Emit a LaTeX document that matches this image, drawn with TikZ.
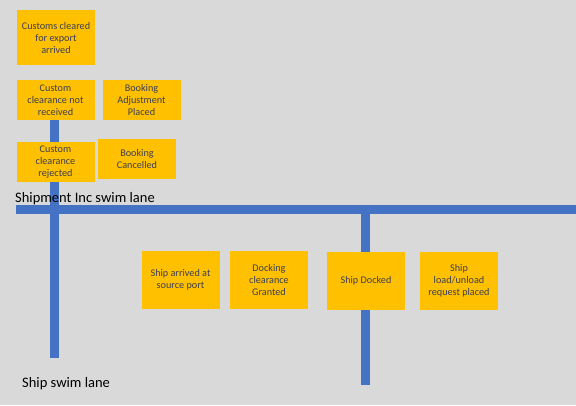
\documentclass[tikz,border=0pt]{standalone}
\usepackage{fontspec}
\setmainfont{Carlito}
\usetikzlibrary{positioning}
\definecolor{lanegray}{HTML}{D9D9D9}
\definecolor{laneblue}{HTML}{4472C4}
\definecolor{stickyamber}{HTML}{FFC000}
\definecolor{stickytext}{HTML}{3A3F55}

\begin{document}
\begin{tikzpicture}[x=1pt, y=-1pt,
    lane/.style={draw=laneblue, line width=9pt},
    sticky/.style={fill=stickyamber, text=stickytext, align=center, inner sep=2pt,
        minimum width=78pt, font=\fontsize{10.2}{12}\selectfont},
    lanelabel/.style={anchor=west, inner sep=0pt, font=\fontsize{14.5}{17}\selectfont}]
\fill[lanegray] (0,0) rectangle (576,405);
\useasboundingbox (0,0) rectangle (576,405);

% swim lane bars
\coordinate (hstart) at (16,209.5);
\coordinate (hend) at (576,209.5);
\coordinate (shiptop) at (54.5,120);
\coordinate (shipend) at (54.5,358);
\coordinate (docktop) at (365,209.5);
\coordinate (dockend) at (365,385);
\draw[lane] (hstart) -- (hend);
\draw[lane] (shiptop) -- (shipend);
\draw[lane] (docktop) -- (dockend);

% shipment inc events
\node[sticky, minimum height=55pt] (export) at (56,37.5) {Customs cleared\\for export\\arrived};
\node[sticky, minimum height=40pt] (notrcv) at (55.5,100) {Custom\\clearance not\\received};
\node[sticky, minimum height=40pt] (adjust) at (141.5,100) {Booking\\Adjustment\\Placed};
\node[sticky, minimum height=40pt] (reject) at (55.5,162) {Custom\\clearance\\rejected};
\node[sticky, minimum height=40pt] (cancel) at (137,159) {Booking\\Cancelled};
\node[lanelabel] (inclane) at (15,199) {Shipment Inc swim lane};

% ship events
\node[sticky, minimum height=58pt] (arrived) at (180.5,280) {Ship arrived at\\source port};
\node[sticky, minimum height=58pt] (granted) at (269,280) {Docking\\clearance\\Granted};
\node[sticky, minimum height=58pt] (docked) at (366,281) {Ship Docked};
\node[sticky, minimum height=58pt] (loadreq) at (459,281) {Ship\\load/unload\\request placed};
\node[lanelabel] (shiplane) at (22,384) {Ship swim lane};

\end{tikzpicture}
\end{document}
